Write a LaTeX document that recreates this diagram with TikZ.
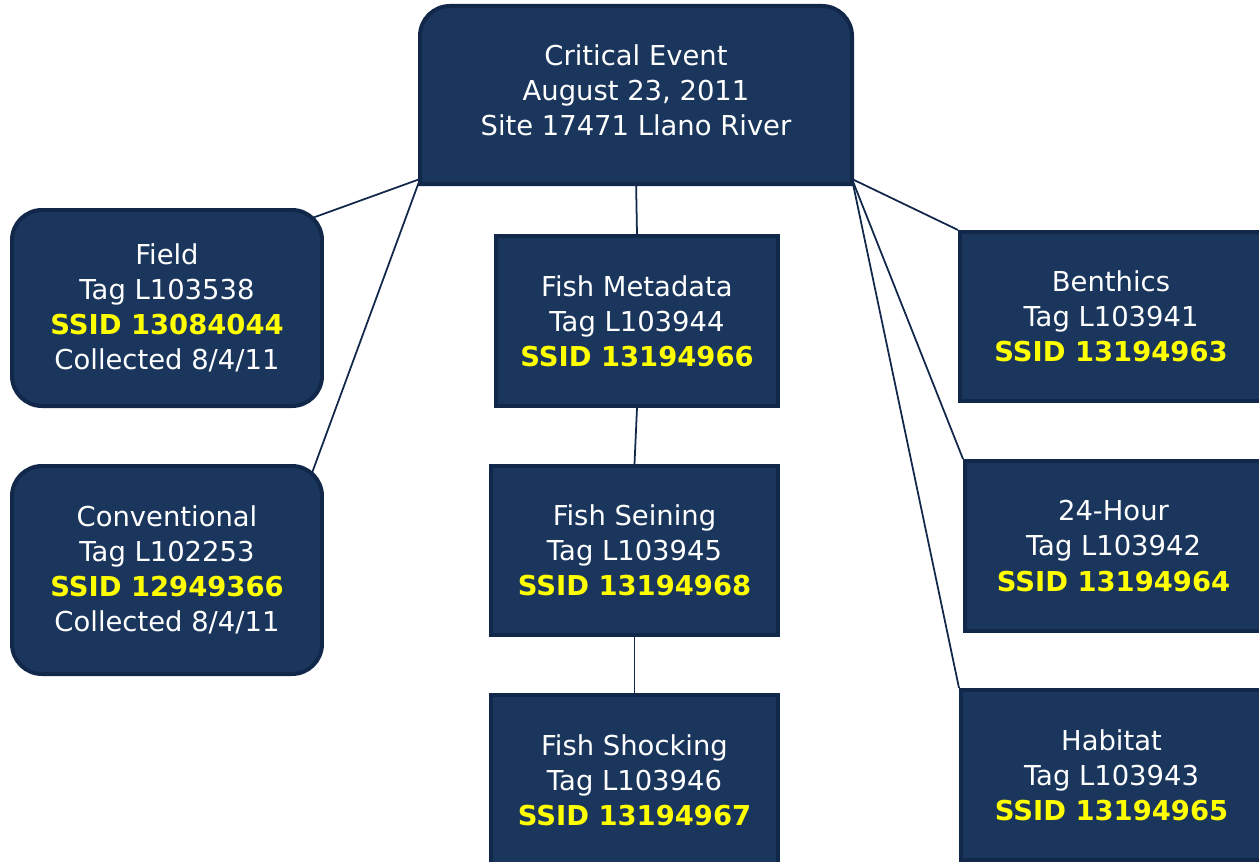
\documentclass[tikz,border=0pt]{standalone}
\usepackage{fontspec}
\setmainfont{DejaVu Sans}
\usetikzlibrary{backgrounds}

\definecolor{boxfill}{HTML}{1A365D}
\definecolor{boxedge}{HTML}{11284A}
\definecolor{ssidyellow}{HTML}{FFFF00}
\tikzset{
	tagbox/.style={draw=boxedge, line width=2.3pt, fill=boxfill, text=white, align=center, font=\fontsize{15.6}{20}\selectfont},
	roundbox/.style={tagbox, rounded corners=0.6cm},
	link/.style={boxedge, line width=1pt}
}
\newcommand{\ssidline}[1]{\textcolor{ssidyellow}{\textbf{SSID #1}}}

\begin{document}
\begin{tikzpicture}[x=0.02cm, y=-0.02cm]
		\clip (0,0) rectangle (1259,862);

		\node [tagbox, draw=none, fill=none, minimum width=8.56cm, minimum height=3.48cm] (event) at (636,90) {Critical Event\\August 23, 2011\\Site 17471 Llano River};

		% left
		\node [roundbox, minimum width=6.2cm, minimum height=3.92cm] (field) at (167,308) {Field\\Tag L103538\\\ssidline{13084044}\\Collected 8/4/11};
		\node [roundbox, minimum width=6.2cm, minimum height=4.16cm] (conv) at (167,570) {Conventional\\Tag L102253\\\ssidline{12949366}\\Collected 8/4/11};

		% middle
		\node [tagbox, minimum width=5.64cm, minimum height=3.4cm] (meta) at (637,321) {Fish Metadata\\Tag L103944\\\ssidline{13194966}};
		\node [tagbox, minimum width=5.74cm, minimum height=3.38cm] (seine) at (634.5,550.5) {Fish Seining\\Tag L103945\\\ssidline{13194968}};
		\node [tagbox, minimum width=5.74cm, minimum height=3.4cm] (shock) at (634.5,780) {Fish Shocking\\Tag L103946\\\ssidline{13194967}};

		% right
		\node [tagbox, minimum width=6.04cm, minimum height=3.38cm] (benth) at (1111,316.5) {Benthics\\Tag L103941\\\ssidline{13194963}};
		\node [tagbox, minimum width=5.94cm, minimum height=3.4cm] (hour) at (1113.5,546) {24-Hour\\Tag L103942\\\ssidline{13194964}};
		\node [tagbox, minimum width=6.02cm, minimum height=3.4cm] (habit) at (1111.5,775) {Habitat\\Tag L103943\\\ssidline{13194965}};

		\begin{scope}[on background layer]
		\draw [link] (event.south west) to ([xshift=-0.2cm]field.30);
		\draw [link] (event.south west) to ([xshift=-0.24cm,yshift=-0.18cm]conv.north east);
		\draw [link] (event.south) to (meta.north);
		\draw [link] (meta.south) to (seine.north);
		\draw [link] (seine.south) to (shock.north);
		\draw [link] (event.south east) to (benth.north west);
		\draw [link] (event.south east) to (hour.north west);
		\draw [link] (event.south east) to (habit.north west);
		% top box, round on top only
		\draw [draw=boxedge, line width=2.3pt, fill=boxfill] ([yshift=-0.1cm]event.south west) -- ([yshift=-0.7cm]event.north west) arc [start angle=180, end angle=90, radius=0.6cm] -- ([xshift=-0.6cm,yshift=-0.1cm]event.north east) arc [start angle=90, end angle=0, radius=0.6cm] -- ([yshift=-0.1cm]event.south east) -- cycle;
		\end{scope}
\end{tikzpicture}
\end{document}
